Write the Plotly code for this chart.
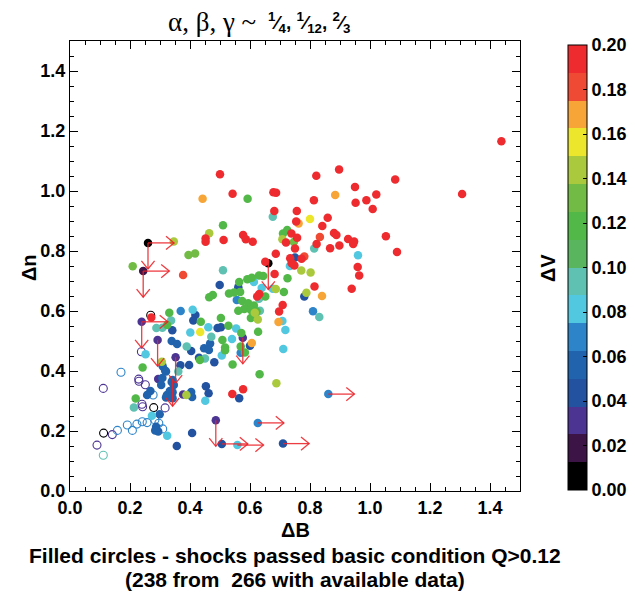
import plotly.graph_objects as go

# ---------------- colour bands of the ΔV scale (16 levels, 0 .. 0.20) ----------------
band_colors = ["#000000", "#3c1446", "#4b3492", "#2352a0", "#2163ad", "#2d84c9",
               "#52c7e0", "#5fc1b2", "#5ab65e", "#52b848", "#72bc45", "#aac93d",
               "#ece72c", "#f6a536", "#ef4a33", "#ee2b2f"]
cbar_ticks = [0.00, 0.02, 0.04, 0.06, 0.08, 0.10, 0.12, 0.14, 0.16, 0.18, 0.20]
x_ticks = [0.0, 0.2, 0.4, 0.6, 0.8, 1.0, 1.2, 1.4]
y_ticks = [0.0, 0.2, 0.4, 0.6, 0.8, 1.0, 1.2, 1.4]

# ---------------- filled circles, grouped by ΔV level ----------------
red_dB = [1.438, 1.307, 1.084, 1.090, 1.053, 1.021, 1.009, 0.988, 0.952, 0.950, 0.897, 0.821, 0.813,
          0.678, 0.687, 0.681, 0.859, 0.756, 0.754, 0.841, 0.880, 0.888, 0.927, 0.947, 0.944, 0.898,
          0.867, 0.959, 0.964, 0.939, 0.500, 0.542, 0.452, 0.452, 0.512, 0.577, 0.586, 0.609, 0.686,
          0.738, 0.757, 0.720, 0.822, 0.750, 0.734, 0.739, 0.748, 0.772, 0.651, 0.682, 0.815, 0.709,
          0.697, 0.631, 0.624, 0.271, 0.541, 0.577]
red_dn = [1.166, 0.990, 1.038, 0.797, 0.849, 0.988, 0.940, 0.969, 0.961, 1.013, 1.072, 1.051, 0.969,
          0.996, 0.994, 0.933, 0.911, 0.933, 0.898, 0.883, 0.860, 0.853, 0.840, 0.832, 0.823, 0.818,
          0.809, 0.747, 0.718, 0.674, 1.056, 0.991, 0.842, 0.831, 0.837, 0.853, 0.839, 0.831, 0.791,
          0.858, 0.844, 0.828, 0.823, 0.808, 0.776, 0.759, 0.752, 0.774, 0.764, 0.723, 0.682, 0.620,
          0.598, 0.657, 0.648, 0.578, 0.323, 0.339]

redorange_dB = [0.377, 0.833, 0.781]
redorange_dn = [0.720, 0.847, 0.782]

orange_dB = [0.884, 0.762, 0.840, 0.695, 0.606, 0.442]
orange_dn = [0.987, 0.892, 0.650, 0.563, 0.493, 0.974]

yellow_dB = [0.800, 0.434]
yellow_dn = [0.907, 0.530]

ygreen_dB = [0.464, 0.346, 0.708, 0.771, 0.802, 0.788, 0.688, 0.686, 0.616, 0.626, 0.306, 0.388]
ygreen_dn = [0.859, 0.832, 0.839, 0.735, 0.728, 0.661, 0.359, 0.673, 0.594, 0.572, 0.431, 0.320]

lgreen_dB = [0.395, 0.417, 0.209, 0.746]
lgreen_dn = [0.787, 0.792, 0.749, 0.830]

green_dB = [0.592, 0.510, 0.724, 0.710, 0.725, 0.713, 0.632, 0.564, 0.591, 0.606, 0.630, 0.644, 0.651,
            0.567, 0.574, 0.594, 0.613, 0.581, 0.603, 0.622, 0.530, 0.547, 0.476, 0.464, 0.561, 0.331,
            0.436, 0.324, 0.503, 0.528, 0.433, 0.508, 0.517, 0.517, 0.542, 0.242, 0.219, 0.603, 0.617,
            0.571, 0.627, 0.569, 0.583]
green_dn = [0.974, 0.886, 0.870, 0.858, 0.709, 0.663, 0.389, 0.697, 0.706, 0.711, 0.718, 0.717, 0.648,
            0.663, 0.633, 0.626, 0.618, 0.607, 0.603, 0.598, 0.658, 0.662, 0.653, 0.646, 0.601, 0.594,
            0.564, 0.553, 0.577, 0.551, 0.437, 0.503, 0.478, 0.469, 0.422, 0.412, 0.308, 0.577, 0.584,
            0.527, 0.531, 0.482, 0.462]

teal_dB = [0.676, 0.510, 0.814, 0.630, 0.633, 0.831, 0.337, 0.288, 0.308, 0.389, 0.471, 0.450, 0.361, 0.213]
teal_dn = [0.914, 0.736, 0.808, 0.641, 0.601, 0.580, 0.568, 0.543, 0.544, 0.482, 0.514, 0.442, 0.398, 0.278]

cyan_dB = [0.960, 0.733, 0.708, 0.718, 0.711, 0.613, 0.639, 0.676, 0.409, 0.401, 0.461, 0.540, 0.252,
           0.506, 0.451, 0.273, 0.324, 0.558, 0.554]
cyan_dn = [0.786, 0.750, 0.567, 0.537, 0.473, 0.697, 0.677, 0.674, 0.604, 0.528, 0.546, 0.507, 0.456,
           0.452, 0.301, 0.251, 0.184, 0.153, 0.542]

mblue_dB = [0.810, 0.861, 0.556, 0.369, 0.626, 0.569]
mblue_dn = [0.599, 0.323, 0.637, 0.600, 0.227, 0.461]

blue_dB = [0.339, 0.357, 0.447, 0.467, 0.463, 0.309, 0.317, 0.320, 0.342, 0.339, 0.346, 0.323, 0.333,
           0.342, 0.336, 0.320, 0.342, 0.308, 0.304, 0.268, 0.257, 0.404, 0.407, 0.299, 0.287, 0.294, 0.284]
blue_dn = [0.500, 0.490, 0.476, 0.492, 0.470, 0.416, 0.402, 0.398, 0.370, 0.363, 0.353, 0.320, 0.333,
           0.329, 0.314, 0.312, 0.309, 0.377, 0.353, 0.333, 0.320, 0.330, 0.313, 0.256, 0.214, 0.198, 0.202]

dblue_dB = [0.750, 0.781, 0.499, 0.561, 0.418, 0.411, 0.341, 0.492, 0.503, 0.404, 0.430, 0.481, 0.368,
            0.397, 0.453, 0.462, 0.564, 0.407, 0.356, 0.506, 0.710, 0.600]
dblue_dn = [0.778, 0.648, 0.687, 0.679, 0.587, 0.568, 0.536, 0.543, 0.546, 0.467, 0.444, 0.429, 0.419,
            0.420, 0.349, 0.326, 0.309, 0.193, 0.150, 0.157, 0.158, 0.484]

purple_dB = [0.239, 0.292, 0.352, 0.294, 0.377, 0.486, 0.576]
purple_dn = [0.564, 0.503, 0.446, 0.373, 0.322, 0.236, 0.511]

dpurple_dB = [0.244]
dpurple_dn = [0.733]

black_dB = [0.260, 0.661]
black_dn = [0.827, 0.759]

filled_groups = [  # (ΔV level, ΔB list, Δn list)
    (0.031, purple_dB, purple_dn), (0.019, dpurple_dB, dpurple_dn), (0.006, black_dB, black_dn),
    (0.044, dblue_dB, dblue_dn), (0.056, blue_dB, blue_dn), (0.069, mblue_dB, mblue_dn),
    (0.081, cyan_dB, cyan_dn), (0.094, teal_dB, teal_dn), (0.119, green_dB, green_dn),
    (0.131, lgreen_dB, lgreen_dn), (0.144, ygreen_dB, ygreen_dn), (0.156, yellow_dB, yellow_dn),
    (0.169, orange_dB, orange_dn), (0.181, redorange_dB, redorange_dn), (0.194, red_dB, red_dn),
]

# ---------------- open circles (did not pass the condition) ----------------
open_purple_dB = [0.238, 0.229, 0.230, 0.251, 0.111, 0.240, 0.242, 0.317, 0.141, 0.090]
open_purple_dn = [0.464, 0.373, 0.366, 0.354, 0.342, 0.289, 0.281, 0.277, 0.188, 0.153]
open_blue_dB = [0.170, 0.277, 0.283, 0.241, 0.257, 0.223, 0.191, 0.208, 0.158, 0.296, 0.309]
open_blue_dn = [0.396, 0.320, 0.237, 0.231, 0.228, 0.223, 0.220, 0.202, 0.202, 0.226, 0.207]
open_black_dB = [0.269, 0.279, 0.112]
open_black_dn = [0.586, 0.278, 0.193]
open_teal_dB = [0.111]
open_teal_dn = [0.119]

open_groups = [
    (0.031, open_purple_dB, open_purple_dn), (0.069, open_blue_dB, open_blue_dn),
    (0.006, open_black_dB, open_black_dn), (0.094, open_teal_dB, open_teal_dn),
]

# ---------------- lower-limit arrows ----------------
arrow_dB = [0.260, 0.260, 0.244, 0.244, 0.661, 0.239, 0.239, 0.292, 0.352, 0.342, 0.576, 0.486,
            0.506, 0.558, 0.710, 0.626, 0.861]
arrow_dn = [0.827, 0.827, 0.733, 0.733, 0.759, 0.564, 0.564, 0.503, 0.446, 0.370, 0.511, 0.236,
            0.157, 0.153, 0.158, 0.227, 0.323]
arrow_dir = ["r", "d", "r", "d", "d", "r", "d", "d", "d", "d", "d", "d", "r", "r", "r", "r", "r"]
arrow_len = 0.087
head_back, head_side = 0.027, 0.022   # chevron size, in axis units

# ---------------- figure ----------------
# the page body adds an 8 px margin, so the figure is 8 px smaller and its margins compensate
W, H = 627, 589
ML, MT = 62, 33            # -> plot area at page pixels x 70..520, y 41..491
PW = PH = 450
MR, MB = W - ML - PW, H - MT - PH
OX, OY = 70, 491           # page-pixel position of the plot origin


def px(xpix):
    return (xpix - OX) / PW


def py(ypix):
    return (OY - ypix) / PH


nb = len(band_colors)
colorscale = []
for i, c in enumerate(band_colors):
    colorscale += [[i / nb, c], [(i + 1) / nb, c]]

fig = go.Figure()

for lev, xs, ys in open_groups:
    fig.add_trace(go.Scatter(
        x=xs, y=ys, mode="markers", showlegend=False, hoverinfo="skip",
        marker=dict(symbol="circle-open", size=8, color=[lev] * len(xs),
                    coloraxis="coloraxis", line=dict(width=1.1))))

for lev, xs, ys in filled_groups:
    fig.add_trace(go.Scatter(
        x=xs, y=ys, mode="markers", showlegend=False, hoverinfo="skip",
        marker=dict(symbol="circle", size=8.5, color=[lev] * len(xs),
                    coloraxis="coloraxis", line=dict(width=0))))

# arrows: shaft + open chevron head, as one line trace
ax_, ay_ = [], []
for x0, y0, d in zip(arrow_dB, arrow_dn, arrow_dir):
    if d == "r":
        x1, y1 = x0 + arrow_len, y0
        ax_ += [x0, x1, None, x1 - head_back, x1, x1 - head_back, None]
        ay_ += [y0, y1, None, y1 + head_side, y1, y1 - head_side, None]
    else:
        x1, y1 = x0, y0 - arrow_len
        ax_ += [x0, x1, None, x1 - head_side, x1, x1 + head_side, None]
        ay_ += [y0, y1, None, y1 + head_back, y1, y1 + head_back, None]
fig.add_trace(go.Scatter(x=ax_, y=ay_, mode="lines", showlegend=False, hoverinfo="skip",
                         line=dict(color="rgba(236,34,40,0.88)", width=1.3)))

bold = dict(family="Liberation Sans", size=21, color="black", weight="bold")
lab = dict(family="Liberation Sans", size=20, color="black", weight="bold")

frac = "<sup>1</sup>⁄<sub>4</sub>, <sup>1</sup>⁄<sub>12</sub>, <sup>2</sup>⁄<sub>3</sub>"

annotations = [
    dict(text="α, β, γ ~", xref="paper", yref="paper", x=px(258), y=py(22), showarrow=False,
         xanchor="right", yanchor="middle",
         font=dict(family="Liberation Serif", size=27, color="black")),
    dict(text=frac, xref="paper", yref="paper", x=px(266), y=py(22), showarrow=False,
         xanchor="left", yanchor="middle",
         font=dict(family="Liberation Sans", size=19, color="black", weight="bold")),
    dict(text="ΔB", xref="paper", yref="paper", x=0.5, y=py(530), showarrow=False,
         xanchor="center", yanchor="middle", font=lab),
    dict(text="Filled circles - shocks passed basic condition Q>0.12", xref="paper", yref="paper",
         x=0.5, y=py(555), showarrow=False, xanchor="center", yanchor="middle", font=bold),
    dict(text="(238 from  266 with available data)", xref="paper", yref="paper",
         x=0.5, y=py(579), showarrow=False, xanchor="center", yanchor="middle", font=bold),
    dict(text="Δn", xref="paper", yref="paper", x=px(29), y=py(268),
         showarrow=False, textangle=-90, xanchor="center", yanchor="middle", font=lab),
    dict(text="ΔV", xref="paper", yref="paper", x=px(548), y=py(268),
         showarrow=False, textangle=-90, xanchor="center", yanchor="middle", font=lab),
]

tickfont = dict(family="Liberation Sans", size=18, color="black", weight="bold")
axis_common = dict(range=[0, 1.5], showgrid=False, zeroline=False, showline=True,
                   linecolor="black", linewidth=1.2, mirror="ticks", ticks="inside",
                   ticklen=8, tickwidth=1.2, tickcolor="black", tickfont=tickfont,
                   minor=dict(dtick=0.05, ticks="inside", ticklen=4, tickcolor="black", tickwidth=1))

fig.update_layout(
    width=W, height=H,
    margin=dict(l=ML, r=MR, t=MT, b=MB, autoexpand=False),
    paper_bgcolor="white", plot_bgcolor="white",
    xaxis=dict(axis_common, tickvals=x_ticks, ticktext=[f"{v:.1f}" for v in x_ticks]),
    yaxis=dict(axis_common, tickvals=y_ticks, ticktext=[f"{v:.1f}" for v in y_ticks]),
    coloraxis=dict(
        cmin=0, cmax=0.2, colorscale=colorscale,
        colorbar=dict(thickness=19, len=445 / PH, lenmode="fraction",
                      x=px(568), xanchor="left", y=py(267.5), yanchor="middle",
                      xpad=0, ypad=0, outlinewidth=1, outlinecolor="black",
                      tickvals=cbar_ticks, ticktext=[f"{v:.2f}" for v in cbar_ticks],
                      ticks="inside", ticklen=4, tickcolor="black", tickfont=tickfont)),
    annotations=annotations,
)

fig.write_html("out.html")
